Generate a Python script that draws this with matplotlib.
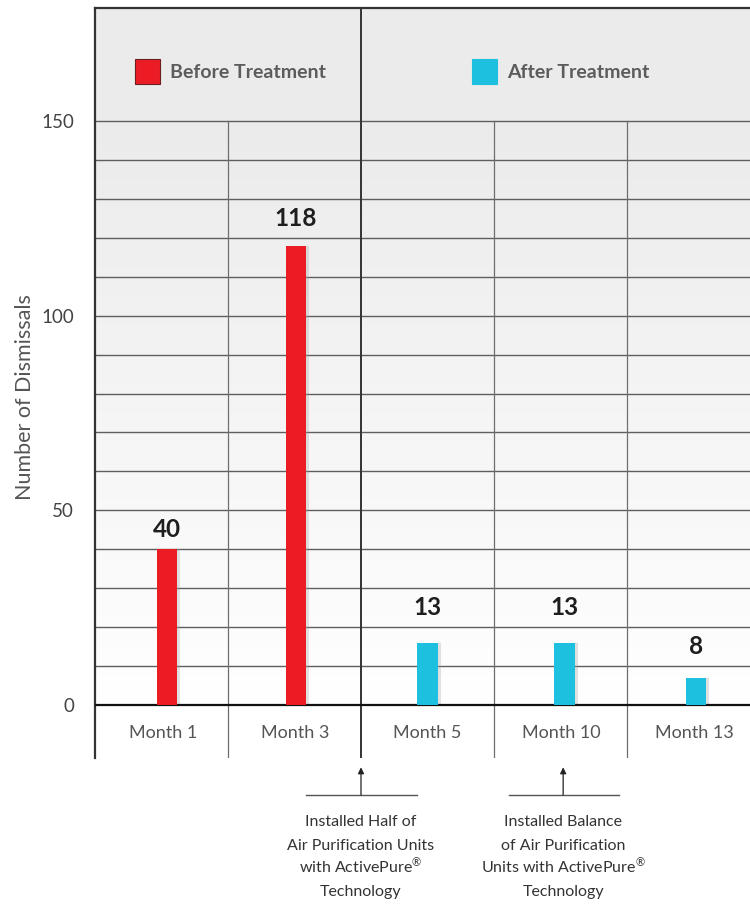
import math
import numpy as np
import matplotlib
matplotlib.use('Agg')
import matplotlib.pyplot as plt
from matplotlib.patches import Rectangle

plt.rcParams['font.family'] = ['Lato', 'DejaVu Sans']
plt.rcParams['mathtext.default'] = 'regular'

# data
months = ['Month 1', 'Month 3', 'Month 5', 'Month 10', 'Month 13']
bar_heights = [40, 118, 16, 16, 7]
value_labels = ['40', '118', '13', '13', '8']
phase = ['before', 'before', 'after', 'after', 'after']
bar_offsets = [0.04, 0.01, 0.0, 0.03, 0.02]
legend_labels = ['Before Treatment', 'After Treatment']
notes = [
    (2.0, ['Installed Half of', 'Air Purification Units',
           'with ActivePure$^{®}$', 'Technology']),
    (3.52, ['Installed Balance', 'of Air Purification',
            'Units with ActivePure$^{®}$', 'Technology']),
]

RED = '#ec1c24'
CYAN = '#1ec0df'
colors = {'before': RED, 'after': CYAN}

fig = plt.figure(figsize=(7.5, 9.06), dpi=100)
ax = fig.add_axes([95 / 750, 148 / 906, 665 / 750, 750 / 906])
ymin, ymax = -13.6, 179
ax.set_xlim(0, 5)
ax.set_ylim(ymin, ymax)

# backgrounds: header band and a soft grey-to-white gradient
ax.axhspan(150, ymax, color='#ebebeb', zorder=0, lw=0)
grad = np.linspace(0, 1, 256).reshape(-1, 1)
ax.imshow(grad, extent=(0, 5, 0, 150), origin='lower', aspect='auto',
          cmap=matplotlib.colors.LinearSegmentedColormap.from_list('g', ['#ffffff', '#ebebeb']),
          zorder=0)

# grid
for v in range(10, 151, 10):
    ax.plot([0, 5], [v, v], color='#5e5e5e', lw=1.0, zorder=1)
ax.plot([0, 5], [0, 0], color='#111111', lw=1.6, zorder=3)
for xv in [1, 3, 4]:
    ax.plot([xv, xv], [ymin, 150], color='#6e6e6e', lw=0.9, zorder=1)
ax.plot([2, 2], [ymin, ymax], color='#333333', lw=1.4, zorder=1)

for s in ['right', 'bottom']:
    ax.spines[s].set_visible(False)
ax.spines['left'].set_color('#333333')
ax.spines['left'].set_linewidth(1.6)
ax.spines['top'].set_color('#333333')
ax.spines['top'].set_linewidth(1.6)

ax.set_xticks([])
ax.set_yticks([0, 50, 100, 150])
ax.tick_params(axis='y', length=0, pad=15, labelsize=13.5, labelcolor='#444444')

# bars with a faint right-hand shadow
x = np.arange(len(months)) + 0.5 + np.array(bar_offsets)
w = 0.155
bar_colors = [colors[p] for p in phase]
ax.bar(x + 0.022, bar_heights, width=w, color='#a0a0a0', alpha=0.3, zorder=2, lw=0)
ax.bar(x, bar_heights, width=w, color=bar_colors, zorder=4, lw=0)

for xi, h, lab in zip(x, bar_heights, value_labels):
    ax.text(xi, math.ceil(h / 10) * 10 + 5, lab, ha='center', va='center',
            fontsize=17.5, fontweight='bold', color='#1e1e1e', zorder=5)

for i, m in enumerate(months):
    ax.text(i + 0.5 + bar_offsets[i] * 0.3, -7.2, m, ha='center', va='center',
            fontsize=13, color='#555555')

# legend in the header band
for (x0, lab, col, ec) in [(0.30, legend_labels[0], RED, '#6b2020'),
                           (2.835, legend_labels[1], CYAN, CYAN)]:
    ax.add_patch(Rectangle((x0, 159.6), 0.185, 6.2, facecolor=col, edgecolor=ec,
                           lw=0.8, zorder=5))
    ax.text(x0 + 0.265, 162.5, lab, ha='left', va='center', fontsize=14,
            fontweight='bold', color='#5c5c5c')

fig.text(25 / 750, 1 - 397 / 906, 'Number of Dismissals', rotation=90,
         ha='center', va='center', fontsize=15.5, color='#555555')

# notes under the axis
for xn, lines in notes:
    ax.plot([xn - 0.41, xn + 0.42], [-23.1, -23.1], color='#555555', lw=1.0,
            clip_on=False)
    ax.annotate('', xy=(xn, -16.0), xytext=(xn, -23.1), annotation_clip=False,
                arrowprops=dict(arrowstyle='-|>', color='#222222', lw=0.9,
                                mutation_scale=9, shrinkA=0, shrinkB=0))
    for k, line in enumerate(lines):
        ax.text(xn, -31.1 - k * 6.0, line, ha='center', va='baseline',
                fontsize=11.5, color='#333333', clip_on=False)

fig.savefig('out.png', dpi=100)
